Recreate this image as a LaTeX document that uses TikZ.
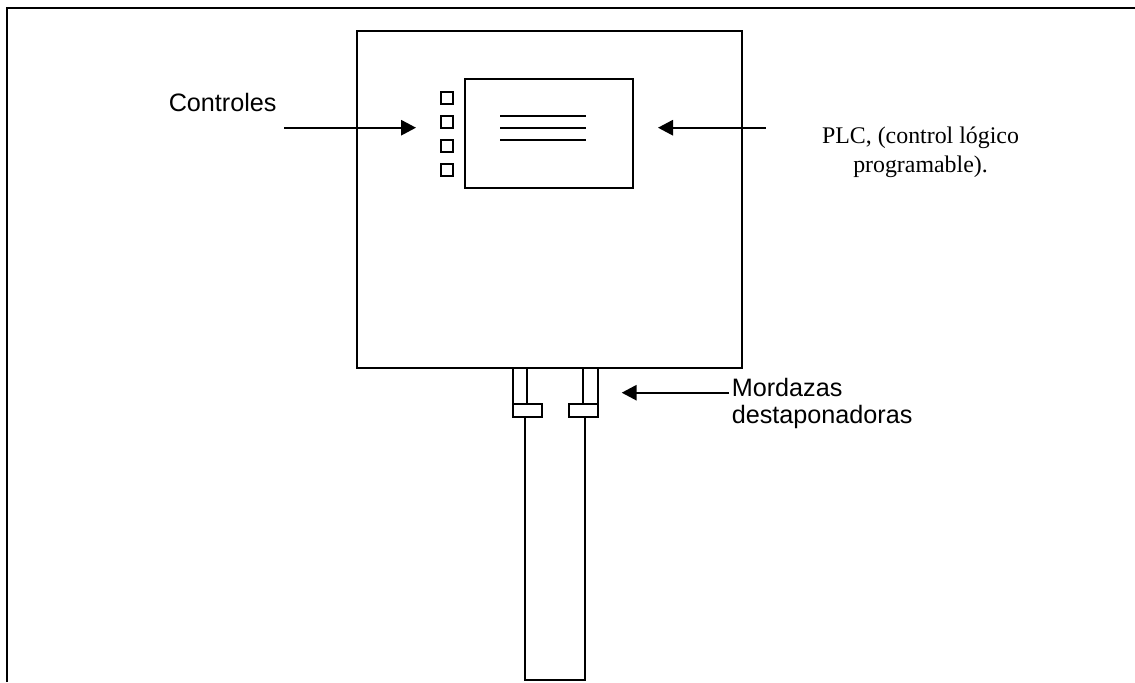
\documentclass[tikz,border=0pt]{standalone}
\usepackage{fontspec}
\setmainfont{Liberation Sans}
\newfontfamily\serifface{Liberation Serif}
\usetikzlibrary{arrows.meta}
\tikzset{
  x=0.75pt,y=-0.75pt,
  part/.style={draw=black,line width=1.5pt,inner sep=0pt},
  linea/.style={draw=black,line width=1.5pt},
  flecha/.style={draw=black,line width=1.5pt,-{Triangle[length=11.25pt,width=11.5pt]}},
  sans/.style={font=\fontsize{18.9pt}{20.6pt}\selectfont,inner sep=0pt,align=left},
  serifl/.style={font=\serifface\fontsize{17.9pt}{21.75pt}\selectfont,inner sep=0pt,align=center}
}
\begin{document}
\begin{tikzpicture}
\useasboundingbox (0,0) rectangle (1135,682);
\fill[white] (0,0) rectangle (1135,682);
\coordinate (fbl) at (7,682);
\coordinate (ftl) at (7,7.5);
\coordinate (ftr) at (1135,7.5);
\draw[linea] (fbl) -- (ftl) -- (ftr);
% main box
\draw[part] (357,31) rectangle (741.5,368);
\draw[part] (464.5,79) rectangle (633,187.5);
\coordinate (l1a) at (500,115.7); \coordinate (l1b) at (585.5,115.7);
\coordinate (l2a) at (500,127.7); \coordinate (l2b) at (585.5,127.7);
\coordinate (l3a) at (500,139.7); \coordinate (l3b) at (585.5,139.7);
\draw[linea] (l1a)--(l1b); \draw[linea] (l2a)--(l2b); \draw[linea] (l3a)--(l3b);
\draw[part] (441,92) rectangle (453,103.5);
\draw[part] (441,116) rectangle (453,127.5);
\draw[part] (441,140) rectangle (453,151.5);
\draw[part] (441,164) rectangle (453,175.5);
% jaws
\coordinate (b1) at (525,416.5); \coordinate (b2) at (525,680);
\coordinate (b3) at (584.7,680); \coordinate (b4) at (584.7,416.5);
\draw[linea] (b1) -- (b2) -- (b3) -- (b4);
\draw[part] (512.7,368) rectangle (526.7,403.5);
\draw[part] (582.7,368) rectangle (597.5,403.5);
\draw[part] (512.7,403.5) rectangle (541.5,416.5);
\draw[part] (568.7,403.5) rectangle (597.5,416.5);
% labels
\node[sans,anchor=base west] (controles) at (168.5,111) {Controles};
\node[serifl] (plc) at (920.5,152) {PLC, (control lógico\\programable).};
\node[sans,anchor=west] (mordazas) at (731.5,403.5) {Mordazas\\destaponadoras};
% arrows
\coordinate (a1s) at (284,127.7); \coordinate (a1e) at (416,127.7);
\coordinate (a2s) at (765.5,127.7); \coordinate (a2e) at (658,127.7);
\coordinate (a3s) at (729,392.7); \coordinate (a3e) at (621.7,392.7);
\draw[flecha] (a1s)--(a1e);
\draw[flecha] (a2s)--(a2e);
\draw[flecha] (a3s)--(a3e);
\end{tikzpicture}
\end{document}
